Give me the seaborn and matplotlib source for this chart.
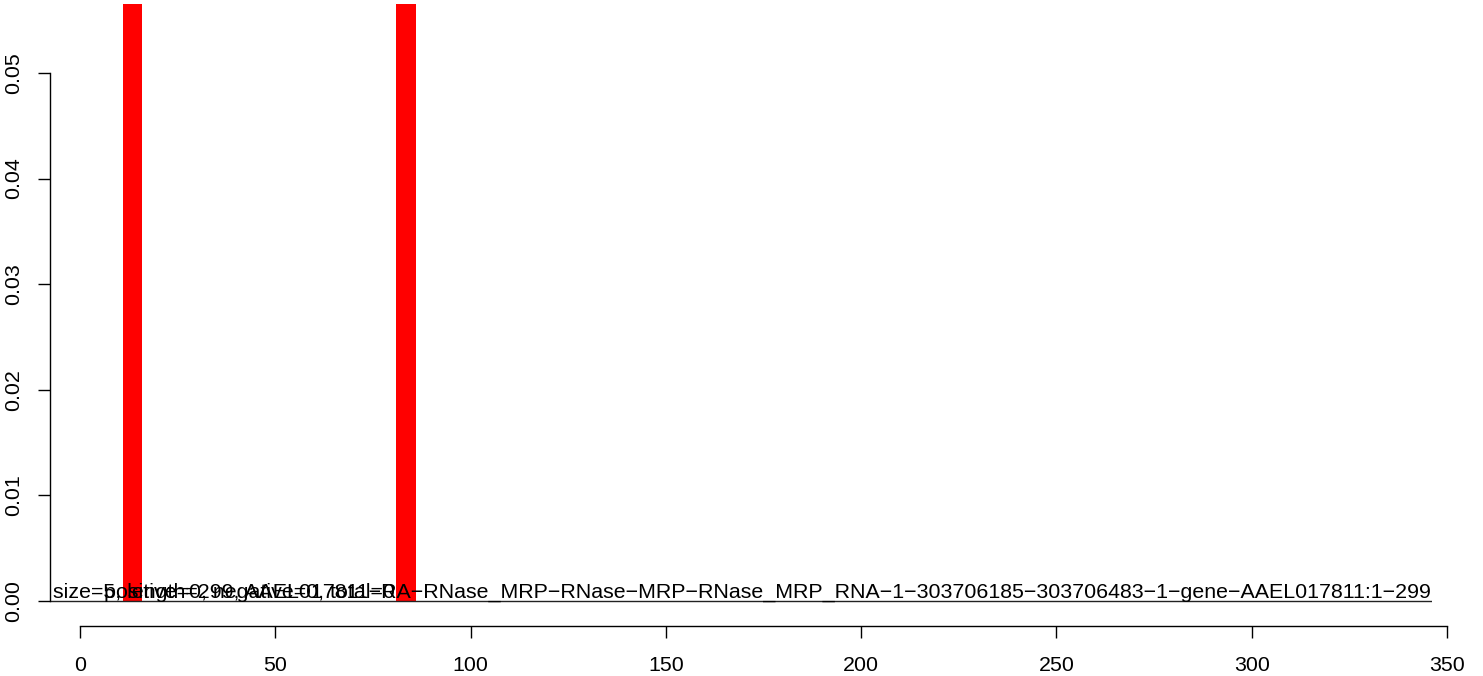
import matplotlib
matplotlib.use("Agg")
import matplotlib.pyplot as plt
import seaborn as sns
import pandas as pd

# data
bar_pos = [13.5, 83.5]        # bar centres (nt)
bar_height = [0.2, 0.2]       # run off the top of the panel
bar_width = 5                 # size=5
ytick_vals = [0.00, 0.01, 0.02, 0.03, 0.04, 0.05]
xtick_vals = [0, 50, 100, 150, 200, 250, 300, 350]
label_main = ("size=5, length=299, AAEL017811\u2212RA\u2212RNase_MRP\u2212RNase\u2212MRP\u2212"
              "RNase_MRP_RNA\u22121\u2212303706185\u2212303706483\u22121\u2212gene\u2212AAEL017811:1\u2212299")
label_counts = "positive=0, negative=0, total=0"

sns.set_style("white")
plt.rcParams['font.family'] = ['Liberation Sans', 'DejaVu Sans']
plt.rcParams['text.color'] = 'black'
plt.rcParams['xtick.color'] = 'black'
plt.rcParams['ytick.color'] = 'black'
plt.rcParams['axes.labelcolor'] = 'black'
FS = 15.4

W, H = 1483, 676
fig = plt.figure(figsize=(W / 100, H / 100), dpi=100)

# main panel: px 50..1432 horizontally, 4..624 vertically
ax = fig.add_axes([50 / W, (H - 624) / H, (1432 - 50) / W, (624 - 4) / H])
df = pd.DataFrame({"pos": bar_pos, "h": bar_height})
gap = bar_pos[1] - bar_pos[0]
sns.barplot(data=df, x="pos", y="h", native_scale=True, width=bar_width / gap,
            color="red", saturation=1, edgecolor="none", linewidth=0, ax=ax)
ax.set_xlim(-7.68, 346.16)
ax.set_ylim(-0.00217, 0.05653)
ax.axhline(0, color="#222222", lw=1.0, zorder=1)

ax.text(-6.9, 0.00028, label_main, fontsize=FS, ha="left", va="baseline", color="black", zorder=5)
ax.text(6.2, 0.00028, label_counts, fontsize=FS, ha="left", va="baseline", color="black", zorder=5)

for s in ["top", "right", "bottom"]:
    ax.spines[s].set_visible(False)
ax.spines["left"].set_bounds(0, 0.05)
ax.spines["left"].set_linewidth(1.0)
ax.spines["left"].set_color("black")
ax.set_xticks([])
ax.set_yticks(ytick_vals)
ax.set_yticklabels([f"{v:.2f}" for v in ytick_vals], rotation=90, va="center", fontsize=FS)
ax.tick_params(axis="y", length=8.6, width=1.0, color="black", pad=11, left=True)
ax.set_xlabel("")
ax.set_ylabel("")

# separate position axis underneath, px 80..1447 at y=626
ax2 = fig.add_axes([80 / W, (H - 626) / H, (1447 - 80) / W, 0.0001])
ax2.set_xlim(0, 350)
ax2.set_facecolor("none")
for s in ["top", "right", "left"]:
    ax2.spines[s].set_visible(False)
ax2.spines["bottom"].set_linewidth(1.0)
ax2.spines["bottom"].set_color("black")
ax2.set_yticks([])
ax2.set_xticks(xtick_vals)
ax2.set_xticklabels([str(v) for v in xtick_vals], fontsize=FS)
ax2.tick_params(axis="x", length=8.6, width=1.0, color="black", pad=13, bottom=True)

fig.savefig("out.png", dpi=100, facecolor="white")
